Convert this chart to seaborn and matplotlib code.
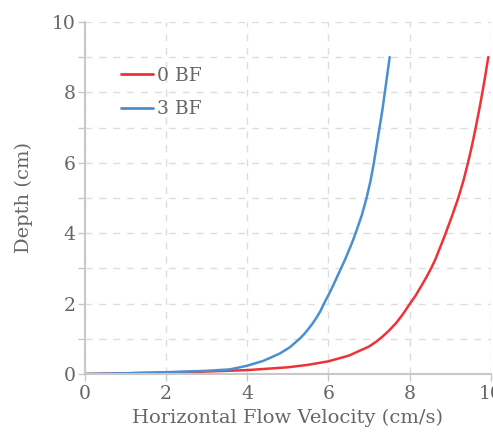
import matplotlib
matplotlib.use("Agg")
import matplotlib.pyplot as plt
import seaborn as sns
import pandas as pd
from matplotlib.ticker import MultipleLocator

# Data
series_names = ["0 BF", "3 BF"]
velocity_0bf = [0, 1, 2, 3, 4, 5, 5.5, 6.0, 6.5, 7.0, 7.17, 7.33, 7.5, 7.67, 7.83, 8.0, 8.15, 8.29, 8.41, 8.53,
                8.63, 8.72, 8.81, 8.89, 9.05, 9.20, 9.33, 9.44, 9.54, 9.63, 9.715, 9.795, 9.87, 9.94]
depth_0bf = [0, 0.02, 0.04, 0.07, 0.11, 0.19, 0.26, 0.36, 0.52, 0.78, 0.91, 1.06, 1.24, 1.45, 1.69, 1.98, 2.23, 2.5, 2.74, 3.0,
             3.24, 3.5, 3.76, 4.0, 4.5, 5.0, 5.5, 6.0, 6.5, 7.0, 7.5, 8.0, 8.5, 9.0]
velocity_3bf = [0, 1, 2, 3, 3.57, 3.98, 4.39, 4.8, 5.05, 5.29, 5.4, 5.5, 5.6, 5.7, 5.8, 5.89, 6.0, 6.11, 6.21, 6.31,
                6.41, 6.50, 6.59, 6.67, 6.82, 6.94, 7.04, 7.12, 7.19, 7.26, 7.33, 7.39, 7.45, 7.51]
depth_3bf = [0, 0.02, 0.05, 0.09, 0.13, 0.23, 0.37, 0.58, 0.76, 1.0, 1.13, 1.27, 1.42, 1.59, 1.78, 2.0, 2.24, 2.5, 2.75, 3.0,
             3.25, 3.5, 3.75, 4.0, 4.5, 5.0, 5.5, 6.0, 6.5, 7.0, 7.5, 8.0, 8.5, 9.0]
x_ticks = [0, 2, 4, 6, 8, 10]
y_ticks = [0, 2, 4, 6, 8, 10]

df = pd.concat([
    pd.DataFrame({"v": velocity_0bf, "d": depth_0bf, "s": series_names[0]}),
    pd.DataFrame({"v": velocity_3bf, "d": depth_3bf, "s": series_names[1]}),
], ignore_index=True)

sns.set_theme(style="white")
plt.rcParams["font.family"] = ["DejaVu Serif"]
text_color = "#666666"

fig = plt.figure(figsize=(4.93, 4.32), dpi=100)
ax = fig.add_axes([0.1724, 0.1343, 0.823, 0.815])

palette = {"0 BF": "#ee3338", "3 BF": "#4a8fd0"}
sns.lineplot(data=df, x="v", y="d", hue="s", palette=palette, sort=False,
             estimator=None, ax=ax, linewidth=1.8)
for line in ax.get_lines():
    line.set_solid_joinstyle("round")

ax.set_xlim(0, 10)
ax.set_ylim(0, 10)
ax.set_xticks(x_ticks)
ax.set_yticks(y_ticks)
ax.yaxis.set_minor_locator(MultipleLocator(1))

grid_kw = dict(color="#dddddd", linestyle=(0, (5, 5)), linewidth=1.0)
ax.grid(True, which="major", **grid_kw)
ax.yaxis.grid(True, which="minor", **grid_kw)
ax.set_axisbelow(True)

for s in ["top", "right"]:
    ax.spines[s].set_visible(False)
for s in ["left", "bottom"]:
    ax.spines[s].set_color("#c8c8c8")
    ax.spines[s].set_linewidth(1.5)

ax.tick_params(axis="both", which="both", direction="out", length=5, width=1,
               color="#c8c8c8", labelcolor=text_color, labelsize=13.5, bottom=True, left=True)
ax.tick_params(axis="x", pad=3)
ax.tick_params(axis="y", pad=2)

ax.set_xlabel("Horizontal Flow Velocity (cm/s)", color=text_color, fontsize=14, labelpad=4)
ax.set_ylabel("Depth (cm)", color=text_color, fontsize=14, labelpad=13)

leg = ax.legend(loc="upper left", bbox_to_anchor=(0.07, 0.894), borderaxespad=0, frameon=False,
                fontsize=13.5, handlelength=1.7, handletextpad=0.25, labelspacing=0.82,
                labelcolor=text_color)
for h in leg.get_lines():
    h.set_linewidth(2)

fig.savefig("out.png", dpi=100)
